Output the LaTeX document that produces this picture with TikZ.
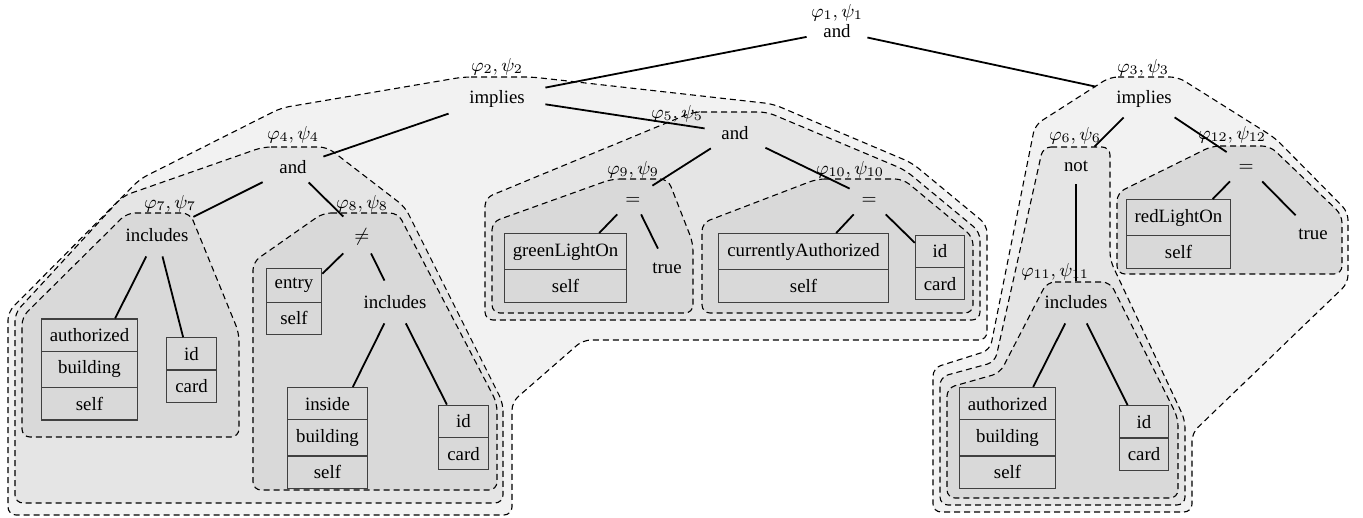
\RequirePackage{fix-cm}
\documentclass[tikz,border=0pt]{standalone}
\usepackage[no-math]{fontspec}
\setmainfont{Liberation Serif}
\usetikzlibrary{shapes.multipart}
\definecolor{hullA}{gray}{0.95}
\definecolor{hullB}{gray}{0.90}
\definecolor{hullC}{gray}{0.85}
\definecolor{boxline}{gray}{0.25}
\begin{document}
\begin{tikzpicture}[x=0.5pt,y=-0.5pt,
  every node/.style={font=\fontsize{9.4}{11}\selectfont},
  hull/.style={draw=black, line width=0.55pt, dash pattern=on 3pt off 2pt, rounded corners=4pt},
  op/.style={inner sep=0pt, text height=6.5pt, text depth=0pt},
  andop/.style={op, minimum width=30pt, minimum height=15pt},
  impop/.style={op, minimum width=48pt, minimum height=20pt},
  incop/.style={op, minimum width=36pt, minimum height=21pt},
  eqop/.style={op, minimum width=19pt, minimum height=16pt},
  notop/.style={op, minimum width=18pt, minimum height=19pt},
  trueop/.style={op, minimum width=17pt, minimum height=18pt},
  lbl/.style={inner sep=0pt, text height=6.5pt, text depth=0pt},
  box/.style={rectangle split, draw=boxline, line width=0.55pt, inner xsep=4.25pt, inner ysep=4.5pt},
  link/.style={draw=black, line width=0.9pt}
]
\useasboundingbox (0,0) rectangle (1363,518);

% outer hulls
\draw[hull, fill=hullA] (463,77) -- (532,77) -- (773,104) -- (912,163) -- (987,225) -- (987,340) -- (583,340) -- (512,402) -- (512,515) -- (8,515) -- (8,312) -- (140,179) -- (281,108) -- cycle;
\draw[hull, fill=hullA] (1110,77) -- (1178,77) -- (1275,138) -- (1348,212) -- (1348,283) -- (1192,433) -- (1192,512) -- (933,512) -- (933,368) -- (990,350) -- (1035,125) -- cycle;
% middle hulls
\draw[hull, fill=hullB] (263,147) -- (327,147) -- (405,207) -- (503,403) -- (503,503) -- (15,503) -- (15,313) -- (123,196) -- cycle;
\draw[hull, fill=hullB] (693,112) -- (767,112) -- (905,170) -- (980,232) -- (980,320) -- (485,320) -- (485,198) -- cycle;
\draw[hull, fill=hullB] (1043,147) -- (1110,147) -- (1110,260) -- (1185,420) -- (1185,505) -- (940,505) -- (940,377) -- (995,362) -- cycle;
% inner hulls
\draw[hull, fill=hullC] (127,213) -- (190,213) -- (239,333) -- (239,437) -- (22,437) -- (22,317) -- cycle;
\draw[hull, fill=hullC] (323,213) -- (398,213) -- (497,403) -- (497,490) -- (253,490) -- (253,262) -- cycle;
\draw[hull, fill=hullC] (612,179) -- (668,179) -- (693,243) -- (693,313) -- (492,313) -- (492,222) -- cycle;
\draw[hull, fill=hullC] (817,179) -- (903,179) -- (973,237) -- (973,313) -- (702,313) -- (702,223) -- cycle;
\draw[hull, fill=hullC] (1047,282) -- (1110,282) -- (1178,418) -- (1178,498) -- (947,498) -- (947,388) -- (1000,373) -- cycle;
\draw[hull, fill=hullC] (1212,146) -- (1270,146) -- (1342,215) -- (1342,274) -- (1117,274) -- (1117,193) -- cycle;

% labels
\node[lbl] (l1) at (837,11) {$\varphi_1, \psi_1$};
\node[lbl] (l2) at (497,65) {$\varphi_2, \psi_2$};
\node[lbl] (l3) at (1143,66) {$\varphi_3, \psi_3$};
\node[lbl] (l4) at (293,133) {$\varphi_4, \psi_4$};
\node[lbl] (l5) at (677,112) {$\varphi_5, \psi_5$};
\node[lbl] (l6) at (1075,134) {$\varphi_6, \psi_6$};
\node[lbl] (l7) at (170,202) {$\varphi_7, \psi_7$};
\node[lbl] (l8) at (362,202) {$\varphi_8, \psi_8$};
\node[lbl] (l9) at (633,168) {$\varphi_9, \psi_9$};
\node[lbl] (l10) at (850,168) {$\varphi_{10}, \psi_{10}$};
\node[lbl] (l11) at (1055,270) {$\varphi_{11}, \psi_{11}$};
\node[lbl] (l12) at (1232,133) {$\varphi_{12}, \psi_{12}$};

% operator nodes
\node[andop] (n1) at (837,31) {and};
\node[impop] (n2) at (497,97) {implies};
\node[impop] (n3) at (1144,97) {implies};
\node[andop] (n4) at (293,167) {and};
\node[andop] (n5) at (735,133) {and};
\node[notop] (n6) at (1076,165) {not};
\node[incop] (n7) at (157,235) {includes};
\node[eqop, minimum height=18pt] (n8) at (362,235) {$\neq$};
\node[eqop] (n9) at (633,198) {$=$};
\node[eqop] (n10) at (869,198) {$=$};
\node[incop] (n11) at (1076,302) {includes};
\node[eqop] (n12) at (1246,165) {$=$};
\node[incop] (n8i) at (395,302) {includes};
\node[trueop] (t9) at (667,267) {true};
\node[trueop] (t12) at (1313,233) {true};

% boxes
\node[box, rectangle split parts=3] (b7a) at (89.5,369.5) {authorized\nodepart{two}building\nodepart{three}self};
\node[box, rectangle split parts=2] (b7b) at (191.5,370) {id\nodepart{two}card};
\node[box, rectangle split parts=2] (b8a) at (294,301.5) {entry\nodepart{two}self};
\node[box, rectangle split parts=3] (b8b) at (327.5,438) {inside\nodepart{two}building\nodepart{three}self};
\node[box, rectangle split parts=2] (b8c) at (463.5,437.5) {id\nodepart{two}card};
\node[box, rectangle split parts=2] (b9) at (565.5,268) {greenLightOn\nodepart{two}self};
\node[box, rectangle split parts=2] (b10a) at (803.5,268) {currentlyAuthorized\nodepart{two}self};
\node[box, rectangle split parts=2] (b10b) at (940,267.5) {id\nodepart{two}card};
\node[box, rectangle split parts=2] (b12) at (1178.5,234) {redLightOn\nodepart{two}self};
\node[box, rectangle split parts=3] (b11a) at (1007.5,438) {authorized\nodepart{two}building\nodepart{three}self};
\node[box, rectangle split parts=2] (b11b) at (1144,438) {id\nodepart{two}card};

% connectors
\draw[link] (n1) -- (n2);
\draw[link] (n1) -- (n3);
\draw[link] (n2) -- (n4);
\draw[link] (n2) -- (n5);
\draw[link] (n4) -- (n7);
\draw[link] (n4) -- (n8);
\draw[link] (n7) -- (b7a);
\draw[link] (n7) -- (b7b);
\draw[link] (n8) -- (b8a);
\draw[link] (n8) -- (n8i);
\draw[link] (n8i) -- (b8b);
\draw[link] (n8i) -- (b8c);
\draw[link] (n5) -- (n9);
\draw[link] (n5) -- (n10);
\draw[link] (n9) -- (b9);
\draw[link] (n9) -- (t9);
\draw[link] (n10) -- (b10a);
\draw[link] (n10) -- (b10b);
\draw[link] (n3) -- (n6);
\draw[link] (n3) -- (n12);
\draw[link] (n6) -- (n11);
\draw[link] (n11) -- (b11a);
\draw[link] (n11) -- (b11b);
\draw[link] (n12) -- (b12);
\draw[link] (n12) -- (t12);
\end{tikzpicture}
\end{document}
